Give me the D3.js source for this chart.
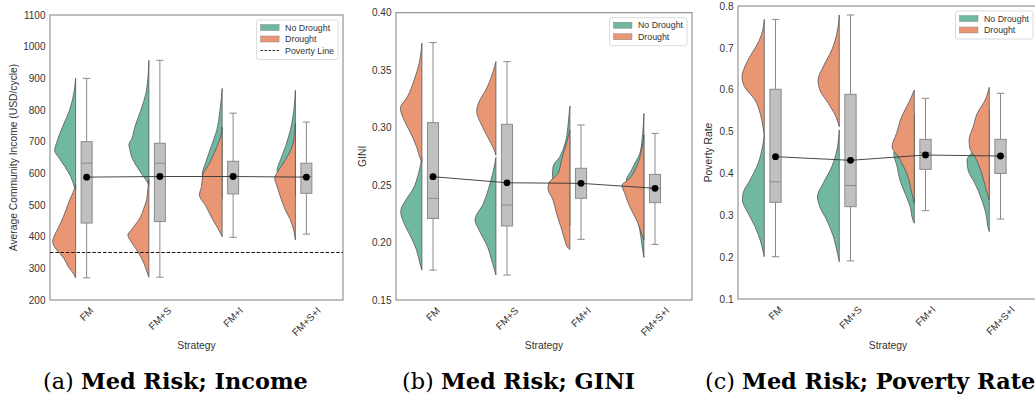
<!DOCTYPE html>
<html>
<head>
<meta charset="utf-8">
<script src="https://cdn.jsdelivr.net/npm/d3@7"></script>
<style>
  body { margin: 0; background: #fff; }
  svg { display: block; }
  text { font-family: "Liberation Sans", Arial, sans-serif; }
</style>
</head>
<body>
<svg id="chart" width="1035" height="398"></svg>
<script>
// ---------------- data ----------------
var strategies = ["FM", "FM+S", "FM+I", "FM+S+I"];
var groups = ["No Drought", "Drought"];
var povertyLine = 350;

// density profiles: [value, relative density] per strategy
var incomeNoDrought = [
  [[545,0],[558,1.3],[590,5],[621,10.7],[650,17],[672,21],[700,18.7],[750,12.7],[800,6],[850,2],[900,0]],
  [[562,0],[569,1],[590,5.3],[621,12],[650,17],[674,19],[690,20],[710,17],[747,14],[800,8],[852,3],[900,1],[957,0]],
  [[520,0],[545,6],[570,14],[595,20],[632,16.7],[684,11],[737,5.3],[790,2.5],[830,1],[868,0]],
  [[530,0],[560,8],[590,16],[610,18.3],[642,15],[684,10],[737,5],[800,1.5],[862,0]]
];
var incomeDrought = [
  [[270,0],[285,2.5],[305,7.4],[330,11.5],[347,15.7],[370,21.5],[385,23],[400,21.7],[430,17],[463,12.3],[490,9],[516,6],[540,2.5],[565,0]],
  [[272,0],[290,2],[316,5],[347,10],[379,16.7],[405,21],[420,18],[432,15],[463,8.3],[490,5],[516,2.3],[550,1],[580,0]],
  [[400,0],[421,3.3],[453,9.3],[495,16],[532,22.7],[558,20.7],[595,19.3],[632,12.7],[684,5.3],[715,1.5],[745,0]],
  [[390,0],[421,1.7],[453,5],[484,10],[526,15],[558,18.3],[584,20.7],[610,16.7],[642,10],[684,3.3],[720,1],[758,0]]
];
// box stats: [low whisker, q1, median, q3, high whisker]
var incomeBox = [[270,443,632,700,900],[272,448,632,695,957],[398,535,592,638,790],[408,537,590,632,762]];
var incomeMean = [588, 590, 590, 588];

var giniNoDrought = [
  [[0.176,0],[0.182,2],[0.1935,5.3],[0.205,11],[0.2167,17.7],[0.2268,21],[0.237,16],[0.2457,9.3],[0.2602,3.3],[0.274,0]],
  [[0.1717,0],[0.1819,3.3],[0.1963,8.3],[0.2109,16.7],[0.2196,20.7],[0.2341,12.3],[0.2486,6.7],[0.2631,2.3],[0.274,0]],
  [[0.215,0],[0.23,5],[0.245,12],[0.2573,17.3],[0.266,16.7],[0.2747,10],[0.289,4],[0.305,1.5],[0.3188,0]],
  [[0.187,0],[0.195,1.5],[0.205,3],[0.22,6],[0.23,9],[0.24,13],[0.2544,17.3],[0.263,12.3],[0.2689,9],[0.2776,4],[0.295,1.2],[0.3124,0]]
];
var giniDrought = [
  [[0.270,0],[0.2718,1],[0.2834,5.3],[0.295,11],[0.3066,17.7],[0.3168,21.3],[0.327,14.3],[0.3414,7.7],[0.356,2.7],[0.3734,0]],
  [[0.276,0],[0.2805,1.7],[0.2921,8.3],[0.3037,15],[0.3138,19],[0.3225,16.7],[0.3327,10],[0.3473,3.3],[0.3574,0]],
  [[0.194,0],[0.1964,2.8],[0.2022,5],[0.2138,9],[0.2254,13.3],[0.237,16.7],[0.2472,21.7],[0.2515,21],[0.2602,11.7],[0.2718,8.3],[0.2863,3.3],[0.298,0]],
  [[0.2022,0],[0.208,2.3],[0.2196,7.3],[0.2312,14],[0.2428,19],[0.25,21.7],[0.2544,15.7],[0.266,7.3],[0.2805,2.3],[0.2935,0]]
];
var giniBox = [[0.176,0.221,0.2385,0.3043,0.374],[0.1717,0.2144,0.2326,0.3029,0.3574],[0.2028,0.2385,0.251,0.2646,0.3023],[0.1984,0.2347,0.247,0.2593,0.295]];
var giniMean = [0.2573, 0.252, 0.2515, 0.2472];

var povNoDrought = [
  [[0.201,0],[0.209,0.7],[0.241,4],[0.2728,9],[0.3047,15.7],[0.3365,21.3],[0.3525,20.7],[0.384,14],[0.416,7.3],[0.456,2.3],[0.492,0]],
  [[0.189,0],[0.209,1.7],[0.249,5.7],[0.2887,12.3],[0.3206,19],[0.3445,21.3],[0.3763,15.7],[0.416,7.3],[0.456,2.3],[0.504,0]],
  [[0.281,0],[0.2887,1.3],[0.3206,4],[0.3525,9],[0.384,14],[0.416,16.7],[0.448,20],[0.47,14],[0.50,7],[0.52,3],[0.54,0]],
  [[0.261,0],[0.2728,1.3],[0.3047,3.3],[0.3365,7.3],[0.3763,14],[0.408,20.7],[0.432,21.7],[0.45,17],[0.47,12],[0.50,6],[0.53,2],[0.55,0]]
];
var povDrought = [
  [[0.492,0],[0.5117,1.3],[0.5436,4],[0.5754,9],[0.607,19.3],[0.631,21.7],[0.655,19],[0.679,14],[0.719,4.7],[0.745,1.2],[0.768,0]],
  [[0.5117,0],[0.5356,3.3],[0.5675,10.7],[0.5993,19],[0.6232,20.7],[0.655,15.7],[0.6949,7.3],[0.7347,2.3],[0.7785,0]],
  [[0.3286,0],[0.3525,2.3],[0.40,7.3],[0.44,15.7],[0.464,21.7],[0.4958,17.3],[0.5356,12.3],[0.5675,5.7],[0.599,0]],
  [[0.3365,0],[0.3604,3],[0.40,7.3],[0.44,14],[0.46,19],[0.48,19.7],[0.5117,15.7],[0.5436,11.7],[0.5754,4],[0.6057,0]]
];
var povBox = [[0.201,0.331,0.380,0.601,0.768],[0.191,0.3206,0.371,0.589,0.7785],[0.311,0.4098,0.4496,0.4814,0.5794],[0.291,0.40,0.44,0.4814,0.5914]];
var povMean = [0.44, 0.4313, 0.444, 0.4416];

var incomeTicks = [200,300,400,500,600,700,800,900,1000,1100];
var giniTicks = [0.15,0.20,0.25,0.30,0.35,0.40];
var povTicks = [0.1,0.2,0.3,0.4,0.5,0.6,0.7,0.8];

// ---------------- styles ----------------
var colors = { "No Drought": "#70b8a1", "Drought": "#e99675" };
var textCol = "#333";

var svg = d3.select("#chart");

var panels = [
  { left: 50, right: 343, top: 15, bottom: 300, domain: [200, 1100], ticks: incomeTicks, fmt: d3.format("d"),
    nd: incomeNoDrought, dr: incomeDrought, box: incomeBox, mean: incomeMean,
    ylabel: "Average Community Income (USD/cycle)", ylabelX: 13, poverty: true,
    caption: ["(a) ", "Med Risk; Income"], capX: 43 },
  { left: 396, right: 692, top: 12.7, bottom: 300, domain: [0.15, 0.40], ticks: giniTicks, fmt: d3.format(".2f"),
    nd: giniNoDrought, dr: giniDrought, box: giniBox, mean: giniMean,
    ylabel: "GINI", ylabelX: 362, poverty: false,
    caption: ["(b) ", "Med Risk; GINI"], capX: 402 },
  { left: 738, right: 1038, top: 6, bottom: 299, domain: [0.1, 0.8], ticks: povTicks, fmt: d3.format(".1f"),
    nd: povNoDrought, dr: povDrought, box: povBox, mean: povMean,
    ylabel: "Poverty Rate", ylabelX: 708, poverty: false,
    caption: ["(c) ", "Med Risk; Poverty Rate"], capX: 705 }
];

var drawPanel = function (p) {
  var g = svg.append("g");
  var x = d3.scaleBand().domain(strategies).range([p.left, p.right]);
  var y = d3.scaleLinear().domain(p.domain).range([p.bottom, p.top]);
  var bw = x.bandwidth();
  var dens = d3.scaleLinear().domain([0, 22]).range([0, bw * 0.3]);
  var center = function (s) { return x(s) + bw / 2; };

  // frame
  g.append("rect")
    .attr("x", p.left).attr("y", p.top)
    .attr("width", p.right - p.left).attr("height", p.bottom - p.top)
    .style("fill", "#fff").style("stroke", "#808080").style("stroke-width", 1);

  // y axis
  var yAxis = d3.axisLeft(y).tickValues(p.ticks).tickFormat(p.fmt).tickSize(0).tickPadding(4.5);
  var ya = g.append("g").attr("transform", "translate(" + p.left + ",0)").call(yAxis);
  ya.select(".domain").remove();
  ya.selectAll("text").style("font-size", "10px").style("fill", textCol)
    .style("font-family", "'Liberation Sans', Arial, sans-serif");

  // x tick labels, rotated 45
  strategies.forEach(function (s) {
    var t = g.append("text").text(s)
      .style("font-size", "10px").style("fill", textCol)
      .attr("text-anchor", "middle").attr("dominant-baseline", "central");
    var len = t.node().getComputedTextLength();
    var half = (len + 11) * Math.SQRT1_2 / 2;
    t.attr("transform", "translate(" + center(s) + "," + (p.bottom + 5 + half) + ") rotate(-45)");
  });

  // axis labels
  g.append("text").text("Strategy")
    .attr("x", (p.left + p.right) / 2).attr("y", 349)
    .attr("text-anchor", "middle")
    .style("font-size", "10.3px").style("fill", textCol);
  g.append("text").text(p.ylabel)
    .attr("transform", "translate(" + p.ylabelX + "," + (p.top + p.bottom) / 2 + ") rotate(-90)")
    .attr("text-anchor", "middle").attr("dominant-baseline", "central")
    .style("font-size", "10.3px").style("fill", textCol);

  // half violins, left of the box
  [["No Drought", p.nd], ["Drought", p.dr]].forEach(function (grp) {
    strategies.forEach(function (s, i) {
      var spine = center(s) - bw * 0.15;
      var area = d3.area()
        .curve(d3.curveMonotoneY)
        .y(function (d) { return y(d[0]); })
        .x0(spine)
        .x1(function (d) { return spine - dens(d[1]); });
      g.append("path")
        .attr("d", area(grp[1][i]))
        .style("fill", colors[grp[0]])
        .style("stroke", "#555")
        .style("stroke-width", 0.8);
    });
  });

  if (p.poverty) {
    g.append("line")
      .attr("x1", p.left).attr("x2", p.right)
      .attr("y1", y(povertyLine)).attr("y2", y(povertyLine))
      .style("stroke", "#111").style("stroke-width", 1)
      .style("stroke-dasharray", "3.5,1.8");
  }

  // boxes
  var boxCol = "#8a8a8a", hw = bw * 0.075, cap = bw * 0.05;
  strategies.forEach(function (s, i) {
    var b = p.box[i], cx = center(s);
    var bg = g.append("g");
    bg.append("line").attr("x1", cx).attr("x2", cx).attr("y1", y(b[0])).attr("y2", y(b[1]))
      .style("stroke", boxCol).style("stroke-width", 1);
    bg.append("line").attr("x1", cx).attr("x2", cx).attr("y1", y(b[3])).attr("y2", y(b[4]))
      .style("stroke", boxCol).style("stroke-width", 1);
    [b[0], b[4]].forEach(function (v) {
      bg.append("line").attr("x1", cx - cap).attr("x2", cx + cap).attr("y1", y(v)).attr("y2", y(v))
        .style("stroke", boxCol).style("stroke-width", 1);
    });
    bg.append("rect")
      .attr("x", cx - hw).attr("width", hw * 2)
      .attr("y", y(b[3])).attr("height", y(b[1]) - y(b[3]))
      .style("fill", "#c0c0c0").style("stroke", boxCol).style("stroke-width", 1);
    bg.append("line").attr("x1", cx - hw).attr("x2", cx + hw).attr("y1", y(b[2])).attr("y2", y(b[2]))
      .style("stroke", boxCol).style("stroke-width", 1);
  });

  // mean line + dots
  var meanLine = d3.line()
    .x(function (d, i) { return center(strategies[i]); })
    .y(function (d) { return y(d); });
  g.append("path").attr("d", meanLine(p.mean))
    .style("fill", "none").style("stroke", "#333").style("stroke-width", 0.9);
  g.selectAll(".mean-dot").data(p.mean).enter().append("circle")
    .attr("class", "mean-dot")
    .attr("cx", function (d, i) { return center(strategies[i]); })
    .attr("cy", function (d) { return y(d); })
    .attr("r", 3.4)
    .style("fill", "#000");

  // legend
  var items = groups.slice();
  if (p.poverty) items.push("Poverty Line");
  var lg = g.append("g");
  var frame = lg.append("rect").attr("rx", 2).attr("ry", 2)
    .style("fill", "#fff").style("fill-opacity", 0.85)
    .style("stroke", "#d0d0d0").style("stroke-width", 0.8);
  var maxLen = 0, rowH = 11.5;
  var texts = items.map(function (it) {
    var t = lg.append("text").text(it).style("font-size", "8.8px").style("fill", textCol)
      .attr("dominant-baseline", "central");
    maxLen = Math.max(maxLen, t.node().getComputedTextLength());
    return t;
  });
  var fw = 4 + 18.5 + 6 + maxLen + 4, fh = items.length * rowH + 5;
  var fx = p.right - 5 - fw, fy = p.top + 5;
  frame.attr("x", fx).attr("y", fy).attr("width", fw).attr("height", fh);
  items.forEach(function (it, k) {
    var cy = fy + 7.5 + k * rowH;
    if (it === "Poverty Line") {
      lg.append("line").attr("x1", fx + 4).attr("x2", fx + 22.5).attr("y1", cy).attr("y2", cy)
        .style("stroke", "#333").style("stroke-width", 1).style("stroke-dasharray", "2.5,1.5");
    } else {
      lg.append("rect").attr("x", fx + 4).attr("y", cy - 3).attr("width", 18.5).attr("height", 6)
        .style("fill", colors[it]).style("stroke", "#777").style("stroke-width", 0.4);
    }
    texts[k].attr("x", fx + 28.5).attr("y", cy);
  });

  // caption
  var cap = svg.append("text").attr("class", "caption")
    .attr("x", p.capX).attr("y", 389)
    .style("font-family", "'DejaVu Serif', serif").style("fill", "#000");
  cap.append("tspan").text(p.caption[0]).style("font-weight", "normal");
  cap.append("tspan").text(p.caption[1]).style("font-weight", "bold");
  return cap;
};

var caps = panels.map(drawPanel);

// size the captions so the first spans the same width as in the figure
caps.forEach(function (c) { c.style("font-size", "20px"); });
var w0 = caps[0].node().getComputedTextLength();
var fs = 20 * 265 / w0;
caps.forEach(function (c) { c.style("font-size", fs + "px"); });
</script>
</body>
</html>
